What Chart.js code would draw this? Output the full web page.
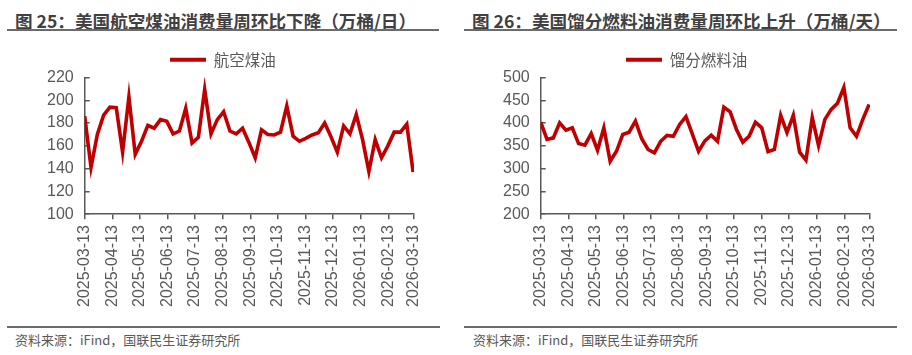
<!DOCTYPE html>
<html>
<head>
<meta charset="utf-8">
<script src="https://cdn.jsdelivr.net/npm/chart.js@4.4.1/dist/chart.umd.min.js"></script>
<style>
  html, body { margin: 0; padding: 0; background: #fff; }
  body { width: 912px; height: 355px; position: relative; overflow: hidden; font-family: "Noto Sans CJK SC", "Liberation Sans", sans-serif; }
  .panel { position: absolute; top: 0; width: 456px; height: 355px; }
  .title { position: absolute; top: 10px; height: 21px; line-height: 21px; font-size: 17.6px; font-weight: bold; color: #404040; white-space: nowrap; }
  .rule { position: absolute; height: 2px; background: #6b6b6b; }
  .source { position: absolute; top: 332px; line-height: 16px; font-size: 13px; color: #595959; white-space: nowrap; }
  canvas { position: absolute; left: 0; top: 0; }
</style>
</head>
<body>
<div class="panel" style="left:0">
  <div class="title" style="left:15px">图 25：美国航空煤油消费量周环比下降（万桶/日）</div>
  <div class="rule" style="left:7px;top:29px;width:432px"></div>
  <canvas id="c1" width="456" height="325"></canvas>
  <div class="rule" style="left:7px;top:326px;width:433px"></div>
  <div class="source" style="left:15px">资料来源：iFind，国联民生证券研究所</div>
</div>
<div class="panel" style="left:456px">
  <div class="title" style="left:16px">图 26：美国馏分燃料油消费量周环比上升（万桶/天）</div>
  <div class="rule" style="left:8px;top:29px;width:433px"></div>
  <canvas id="c2" width="456" height="325"></canvas>
  <div class="rule" style="left:8px;top:326px;width:433px"></div>
  <div class="source" style="left:17px">资料来源：iFind，国联民生证券研究所</div>
</div>
<script>
// ---- data ----
const weekDates = [
  "2025-03-13","2025-03-20","2025-03-27","2025-04-03","2025-04-10","2025-04-17","2025-04-24",
  "2025-05-01","2025-05-08","2025-05-15","2025-05-22","2025-05-29","2025-06-05","2025-06-12",
  "2025-06-19","2025-06-26","2025-07-03","2025-07-10","2025-07-17","2025-07-24","2025-07-31",
  "2025-08-07","2025-08-14","2025-08-21","2025-08-28","2025-09-04","2025-09-11","2025-09-18",
  "2025-09-25","2025-10-02","2025-10-09","2025-10-16","2025-10-23","2025-10-30","2025-11-06",
  "2025-11-13","2025-11-20","2025-11-27","2025-12-04","2025-12-11","2025-12-18","2025-12-25",
  "2026-01-01","2026-01-08","2026-01-15","2026-01-22","2026-01-29","2026-02-05","2026-02-12",
  "2026-02-19","2026-02-26","2026-03-05","2026-03-12"
];
const jetFuel = [
  186, 141, 170, 187, 194, 193.5, 154.5, 203, 152.5, 164, 178, 175.5, 183, 181.5,
  170.5, 173, 193, 162.5, 167.5, 209.5, 170.5, 183, 190, 173, 170.5, 175.5, 163, 149.5,
  174, 170, 169.5, 172, 195, 168.5, 164, 166.5, 169.5, 171.5, 180, 168, 154.5, 177.5,
  170.5, 187.5, 165.5, 137.5, 165.5, 149.5, 160, 172, 172, 179, 137
];
const distillate = [
  402, 364, 367.5, 400.5, 384.5, 389.5, 355, 351.5, 377, 340.5, 389.5, 316, 338, 375,
  380, 404.5, 365.5, 342, 334.5, 360, 373, 371, 397, 414, 376.5, 338, 361, 373.5,
  360, 435, 424.5, 386, 358, 371, 402, 389.5, 337, 342, 417, 379, 417, 336,
  318.5, 412, 350.5, 408, 430, 443.5, 478, 389.5, 371, 408, 441
];
const tickLabels = [
  "2025-03-13","2025-04-13","2025-05-13","2025-06-13","2025-07-13","2025-08-13","2025-09-13",
  "2025-10-13","2025-11-13","2025-12-13","2026-01-13","2026-02-13","2026-03-13"
];
const jetTicks = [100, 120, 140, 160, 180, 200, 220];
const distTicks = [200, 250, 300, 350, 400, 450, 500];

// ---- helpers ----
const DAY = 86400000;
const origin = Date.parse(tickLabels[0]);
const toDay = s => (Date.parse(s) - origin) / DAY;
const tickDays = tickLabels.map(toDay);

const AXIS = '#595959';
const NUMFONT = '"Liberation Sans", Arial, sans-serif';
const CJKFONT = '"Noto Sans CJK SC", "Liberation Sans", sans-serif';

const legendShift = {
  id: 'legendShift',
  afterLayout(chart, args, opts) {
    const lg = chart.legend;
    if (!lg) return;
    const w = lg.right - lg.left;
    const pad = lg.options.labels.padding;
    lg.left = opts.x - pad;
    lg.right = lg.left + w;
  }
};

function makeChart(id, label, values, yTicks) {
  const pts = weekDates.map((d, i) => ({ x: toDay(d), y: values[i] }));
  return new Chart(document.getElementById(id), {
    type: 'line',
    data: {
      datasets: [{
        label: label,
        data: pts,
        borderColor: '#c00000',
        backgroundColor: '#c00000',
        borderWidth: 3.6,
        pointRadius: 0,
        tension: 0,
        fill: false
      }]
    },
    plugins: [legendShift],
    options: {
      responsive: false,
      animation: false,
      devicePixelRatio: 1,
      layout: { padding: { left: 31, right: 42, top: 44, bottom: 12 } },
      plugins: {
        legendShift: { x: 170 },
        tooltip: { enabled: false },
        legend: {
          display: true,
          position: 'top',
          align: 'start',
          labels: {
            boxWidth: 36,
            boxHeight: 4,
            padding: 8,
            color: AXIS,
            font: { family: CJKFONT, size: 15.5 },
            generateLabels(chart) {
              const items = Chart.defaults.plugins.legend.labels.generateLabels(chart);
              items.forEach(it => { it.lineWidth = 0; it.fillStyle = '#c00000'; it.strokeStyle = '#c00000'; });
              return items;
            }
          }
        }
      },
      scales: {
        x: {
          type: 'linear',
          min: tickDays[0],
          max: tickDays[tickDays.length - 1],
          afterBuildTicks(scale) { scale.ticks = tickDays.map(v => ({ value: v })); },
          ticks: {
            autoSkip: false,
            minRotation: 90,
            maxRotation: 90,
            padding: 6,
            color: AXIS,
            font: { family: NUMFONT, size: 16 },
            callback(value, index) { return tickLabels[index]; }
          },
          grid: { drawOnChartArea: false, drawTicks: true, tickLength: 5, color: AXIS, lineWidth: 1.5 },
          border: { display: true, color: AXIS, width: 1.5 }
        },
        y: {
          min: yTicks[0],
          max: yTicks[yTicks.length - 1],
          afterBuildTicks(scale) { scale.ticks = yTicks.map(v => ({ value: v })); },
          ticks: {
            autoSkip: false,
            padding: 16,
            color: AXIS,
            font: { family: NUMFONT, size: 16, lineHeight: 0.95 }
          },
          grid: { drawOnChartArea: false, drawTicks: true, tickLength: -5, color: AXIS, lineWidth: 1.5 },
          border: { display: true, color: AXIS, width: 1.5 }
        }
      }
    }
  });
}

makeChart('c1', '航空煤油', jetFuel, jetTicks);
makeChart('c2', '馏分燃料油', distillate, distTicks);
</script>
</body>
</html>
